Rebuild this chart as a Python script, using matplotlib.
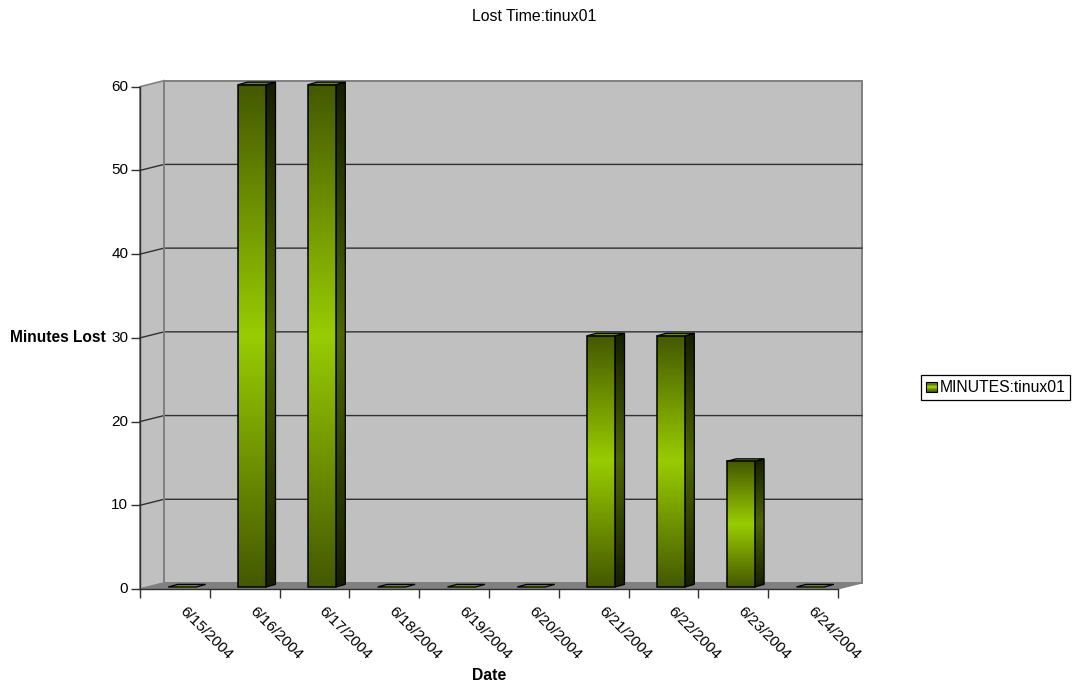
import matplotlib
matplotlib.use("Agg")
import matplotlib.pyplot as plt
import numpy as np
from matplotlib.colors import LinearSegmentedColormap
from matplotlib.patches import Polygon, Patch, Rectangle
from matplotlib.legend_handler import HandlerBase

dates = ["6/15/2004", "6/16/2004", "6/17/2004", "6/18/2004", "6/19/2004",
         "6/20/2004", "6/21/2004", "6/22/2004", "6/23/2004", "6/24/2004"]
minutes = [0, 60, 60, 0, 0, 0, 30, 30, 15, 0]
yticks = [0, 10, 20, 30, 40, 50, 60]
title = "Lost Time:tinux01"
xlabel = "Date"
ylabel = "Minutes Lost"
series_name = "MINUTES:tinux01"

plt.rcParams["font.family"] = ["Liberation Sans", "DejaVu Sans"]
W, H = 1073, 684
fig = plt.figure(figsize=(W / 100, H / 100), dpi=100)
ax = fig.add_axes([140 / W, (H - 589) / H, 698 / W, 502.3 / H])

# 3D projection offsets in data units
px_x = 698 / 10
px_y = 502.3 / 60
wall_dx, wall_dy = 24 / px_x, 6 / px_y
bar_off_x, bar_off_y = 0.404, 2 / px_y
bar_w = 28 / px_x
depth_dx, depth_dy = 9.5 / px_x, 2.6 / px_y

face_cmap = LinearSegmentedColormap.from_list("f", ["#445800", "#99cc00", "#445800"])
side_cmap = LinearSegmentedColormap.from_list("s", ["#161e00", "#4d6600", "#161e00"])
grad = np.linspace(0, 1, 256).reshape(-1, 1)
n = len(dates)
ymax = yticks[-1]

# walls and floor
ax.add_patch(Polygon([(wall_dx, wall_dy), (n + wall_dx, wall_dy), (n + wall_dx, ymax + wall_dy),
                      (wall_dx, ymax + wall_dy)], closed=True, fc="#c0c0c0", ec="#808080",
                     lw=1.4, clip_on=False, zorder=1))
ax.add_patch(Polygon([(0, 0), (wall_dx, wall_dy), (wall_dx, ymax + wall_dy), (0, ymax)], closed=True,
                     fc="#c0c0c0", ec="#808080", lw=1.2, clip_on=False, zorder=1))
ax.add_patch(Polygon([(0, 0), (wall_dx, wall_dy), (n + wall_dx, wall_dy), (n, 0)], closed=True,
                     fc="#808080", ec="#808080", lw=0.8, clip_on=False, zorder=1.5))
for t in yticks[1:-1]:
    ax.plot([0, wall_dx, n + wall_dx], [t, t + wall_dy, t + wall_dy], color="#303030", lw=1.0,
            clip_on=False, zorder=2)
ax.plot([wall_dx, wall_dx], [wall_dy, ymax + wall_dy], color="#808080", lw=1.4, clip_on=False, zorder=2)

# bars
for i, v in enumerate(minutes):
    x0 = i + bar_off_x
    x1 = x0 + bar_w
    y0 = bar_off_y
    y1 = v + bar_off_y
    z = 3 + i * 0.01
    top = Polygon([(x0, y1), (x1, y1), (x1 + depth_dx, y1 + depth_dy), (x0 + depth_dx, y1 + depth_dy)],
                  closed=True, fc="#678a00", ec="black", lw=0.9, clip_on=False, zorder=z + 0.003)
    ax.add_patch(top)
    if v > 0:
        side = Polygon([(x1, y0), (x1 + depth_dx, y0 + depth_dy), (x1 + depth_dx, y1 + depth_dy), (x1, y1)],
                       closed=True, fc="none", ec="black", lw=0.9, clip_on=False, zorder=z + 0.002)
        ax.add_patch(side)
        im = ax.imshow(grad, extent=(x1, x1 + depth_dx, y0, y1 + depth_dy), cmap=side_cmap, aspect="auto",
                       origin="lower", zorder=z + 0.001)
        im.set_clip_path(side)
        im.set_clip_box(fig.bbox)
        im2 = ax.imshow(grad, extent=(x0, x1, y0, y1), cmap=face_cmap, aspect="auto",
                        origin="lower", zorder=z + 0.004, clip_on=False)
        ax.add_patch(Rectangle((x0, y0), bar_w, v, fc="none", ec="black", lw=1.1, clip_on=False,
                               zorder=z + 0.005))

ax.set_xlim(0, n)
ax.set_ylim(0, ymax)
ax.patch.set_visible(False)
for s in ("top", "right"):
    ax.spines[s].set_visible(False)
for s in ("left", "bottom"):
    ax.spines[s].set_color("#303030")
    ax.spines[s].set_linewidth(1.0)
    ax.spines[s].set_zorder(6)

ax.set_yticks(yticks)
ax.set_xticks(np.arange(n + 1))
ax.set_xticklabels([])
ax.tick_params(axis="y", length=6.5, width=1.0, pad=2, labelsize=11, color="#303030")
ax.tick_params(axis="x", length=6.5, width=1.0, color="#303030")
for lab in ax.get_yticklabels():
    lab.set_y(lab.get_position()[1])
    lab.set_verticalalignment("center")
for i, d in enumerate(dates):
    ax.annotate(d, xy=(i + 0.5, 0), xycoords=("data", "axes fraction"), xytext=(12, -15),
                textcoords="offset pixels", rotation=-45, ha="left", va="top",
                rotation_mode="anchor", fontsize=11, color="black")

fig.text(534 / W, 1 - 16.5 / H, title, ha="center", va="center", fontsize=11.4)
fig.text(489 / W, 1 - 675 / H, xlabel, ha="center", va="center", fontsize=11.3, fontweight="bold")
fig.text(57.5 / W, 1 - 337 / H, ylabel, ha="center", va="center", fontsize=11.2, fontweight="bold")


class GradHandler(HandlerBase):
    def create_artists(self, legend, orig, xd, yd, w, h, fs, trans):
        arts = []
        k = 7
        cols = face_cmap(np.linspace(0, 1, k))
        for j in range(k):
            arts.append(Rectangle((xd, yd + h * j / k), w, h / k, fc=cols[j], ec="none", transform=trans))
        arts.append(Rectangle((xd, yd), w, h, fc="none", ec="black", lw=0.8, transform=trans))
        return arts


handle = Patch(label=series_name)
leg = fig.legend(handles=[handle], handler_map={Patch: GradHandler()},
                 loc="center", bbox_to_anchor=(995.5 / W, 1 - 387.5 / H), fontsize=11.3, fancybox=False,
                 framealpha=1, edgecolor="black", handlelength=0.7, handleheight=0.65, handletextpad=0.18,
                 borderpad=0.32, borderaxespad=0)
leg.get_frame().set_linewidth(0.9)

fig.savefig("out.png", dpi=100)
